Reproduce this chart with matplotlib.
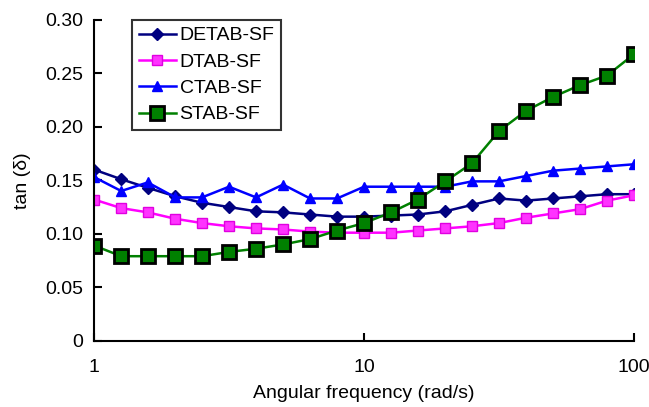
import matplotlib
matplotlib.use('Agg')
import matplotlib.pyplot as plt
from matplotlib.ticker import FixedLocator, NullLocator

plt.rcParams['font.family'] = ['Liberation Sans', 'DejaVu Sans']

freq = [1, 1.26, 1.58, 2, 2.51, 3.16, 3.98, 5.01, 6.31, 7.94, 10,
        12.6, 15.8, 20, 25.1, 31.6, 39.8, 50.1, 63.1, 79.4, 100]

detab = [0.160, 0.151, 0.143, 0.135, 0.129, 0.125, 0.121, 0.120, 0.118, 0.116, 0.116,
         0.117, 0.118, 0.121, 0.127, 0.133, 0.131, 0.133, 0.135, 0.137, 0.137]
dtab = [0.132, 0.124, 0.120, 0.114, 0.110, 0.107, 0.105, 0.104, 0.102, 0.101, 0.101,
        0.101, 0.103, 0.105, 0.107, 0.110, 0.115, 0.119, 0.123, 0.131, 0.136]
ctab = [0.153, 0.140, 0.148, 0.134, 0.134, 0.144, 0.134, 0.146, 0.133, 0.133, 0.144,
        0.144, 0.144, 0.144, 0.149, 0.149, 0.154, 0.159, 0.161, 0.163, 0.165]
stab = [0.089, 0.079, 0.079, 0.079, 0.079, 0.083, 0.086, 0.090, 0.095, 0.103, 0.110,
        0.120, 0.132, 0.149, 0.166, 0.196, 0.215, 0.228, 0.239, 0.248, 0.268]

fig = plt.figure(figsize=(6.49, 4.07), dpi=100)
ax = fig.add_axes([0.145, 0.163, 0.832, 0.788])

ax.plot(freq, detab, color='#000080', marker='D', markersize=6, lw=1.8, label='DETAB-SF')
ax.plot(freq, dtab, color='#FF00FF', marker='s', markersize=7.5, mfc='#FF33FF',
        mec='#E000E0', lw=1.8, label='DTAB-SF')
ax.plot(freq, ctab, color='#0000FF', marker='^', markersize=7.5, lw=1.8, label='CTAB-SF')
ax.plot(freq, stab, color='#008000', marker='s', markersize=9.5, mfc='#008000',
        mec='black', mew=2, lw=1.8, label='STAB-SF')

ax.set_xscale('log')
ax.set_xlim(1, 100)
ax.set_ylim(0, 0.30)
ax.xaxis.set_major_locator(FixedLocator([1, 10, 100]))
ax.xaxis.set_minor_locator(NullLocator())
ax.set_xticklabels(['1', '10', '100'])
ax.set_yticks([0, 0.05, 0.10, 0.15, 0.20, 0.25, 0.30])
ax.set_yticklabels(['0', '0.05', '0.10', '0.15', '0.20', '0.25', '0.30'])

for s in ['top', 'right']:
    ax.spines[s].set_visible(False)
for s in ['left', 'bottom']:
    ax.spines[s].set_linewidth(1.5)
ax.tick_params(direction='in', length=6, width=1.5, labelsize=14)
ax.tick_params(axis='x', pad=13)
ax.tick_params(axis='y', pad=8)

ax.set_xlabel('Angular frequency (rad/s)', fontsize=14, labelpad=7)
ax.set_ylabel('tan (δ)', fontsize=14, labelpad=10)

leg = ax.legend(loc='upper left', bbox_to_anchor=(0.07, 1.0), borderaxespad=0,
                fontsize=14, frameon=True, fancybox=False, handlelength=1.9,
                labelspacing=0.45, borderpad=0.35, handletextpad=0.2)
leg.get_frame().set_edgecolor('black')
leg.get_frame().set_linewidth(1.5)

fig.savefig('out.png', dpi=100)
